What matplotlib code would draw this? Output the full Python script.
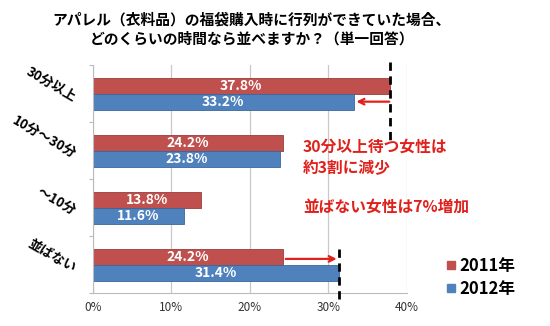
import matplotlib
matplotlib.use("Agg")
import numpy as np
import matplotlib.pyplot as plt
from matplotlib.lines import Line2D

plt.rcParams['font.family'] = ['Noto Sans CJK JP', 'DejaVu Sans']

categories = ["30分以上", "10分～30分", "～10分", "並ばない"]
values_2011 = [37.8, 24.2, 13.8, 24.2]
values_2012 = [33.2, 23.8, 11.6, 31.4]
years = ["2011年", "2012年"]
xticks = [0, 10, 20, 30, 40]

RED = "#C0504D"
BLUE = "#4F81BD"
NOTE = "#E0201B"

fig = plt.figure(figsize=(5.5, 3.26), dpi=100)
ax = fig.add_axes([0.169, 0.101, 0.571, 0.699])

y = np.arange(len(categories))
h = 0.28
bars_a = ax.barh(y - h / 2, values_2011, height=h, color=RED,
                 edgecolor="#9E3B38", linewidth=0.6)
bars_b = ax.barh(y + h / 2, values_2012, height=h, color=BLUE,
                 edgecolor="#3A679C", linewidth=0.6)

for bars, vals in ((bars_a, values_2011), (bars_b, values_2012)):
    for b, v in zip(bars, vals):
        ax.text(v / 2, b.get_y() + b.get_height() / 2, f"{v:.1f}%",
                ha="center", va="center", color="white",
                fontsize=10, fontweight="bold")

ax.set_xlim(0, 40)
ax.set_ylim(len(categories) - 0.5, -0.5)
ax.set_xticks(xticks)
ax.set_xticklabels([f"{t}%" for t in xticks], fontsize=8.5, color="#333333")
ax.set_yticks(np.arange(len(categories) + 1) - 0.5, minor=False)
ax.set_yticklabels([])
ax.tick_params(axis="y", length=3, color="#BBBBBB")
ax.tick_params(axis="x", length=0, pad=6)
ax.grid(axis="x", color="#C8C8C8", linewidth=0.9)
ax.set_axisbelow(True)
for side in ("top", "right"):
    ax.spines[side].set_visible(False)
for side in ("left", "bottom"):
    ax.spines[side].set_color("#BBBBBB")

# rotated category labels
for yi, name in zip(y, categories):
    ax.text(-2.3, yi + 0.08, name, rotation=-30, rotation_mode="anchor",
            ha="right", va="center", fontsize=9.5, fontweight="bold",
            transform=ax.transData, clip_on=False)

# change markers: dashed reference lines + arrows
ax.plot([values_2011[0]] * 2, [-0.55, 0.85], ls=(0, (3, 2)), color="black",
        lw=2, clip_on=False, zorder=5)
ax.annotate("", xy=(values_2012[0], h / 2), xytext=(values_2011[0] + 0.3, h / 2),
            arrowprops=dict(arrowstyle="->", color=NOTE, lw=1.6), zorder=6)
ax.plot([values_2012[3]] * 2, [2.72, 3.66], ls=(0, (3, 2)), color="black",
        lw=2, clip_on=False, zorder=5)
ax.annotate("", xy=(values_2012[3], 3 - 0.1), xytext=(values_2011[3], 3 - 0.1),
            arrowprops=dict(arrowstyle="->", color=NOTE, lw=1.6), zorder=6)

fig.text(0.551, 0.518, "30分以上待つ女性は\n約3割に減少", color=NOTE,
         fontsize=11.3, fontweight="bold", ha="left", va="center",
         linespacing=1.4)
fig.text(0.551, 0.365, "並ばない女性は7%増加", color=NOTE,
         fontsize=11.3, fontweight="bold", ha="left", va="center")

handles = [Line2D([], [], marker="s", ls="", color=c, markersize=6)
           for c in (RED, BLUE)]
fig.legend(handles, years, loc="center left", bbox_to_anchor=(0.78, 0.15),
           frameon=False, prop=dict(size=12, weight="bold"),
           handletextpad=0.1, labelspacing=0.3, handlelength=0.8)

fig.text(0.458, 0.911, "アパレル（衣料品）の福袋購入時に行列ができていた場合、\n"
         "どのくらいの時間なら並べますか？（単一回答）",
         ha="center", va="center", fontsize=10.6, fontweight="bold",
         linespacing=1.25)

fig.savefig("out.png", dpi=100)
